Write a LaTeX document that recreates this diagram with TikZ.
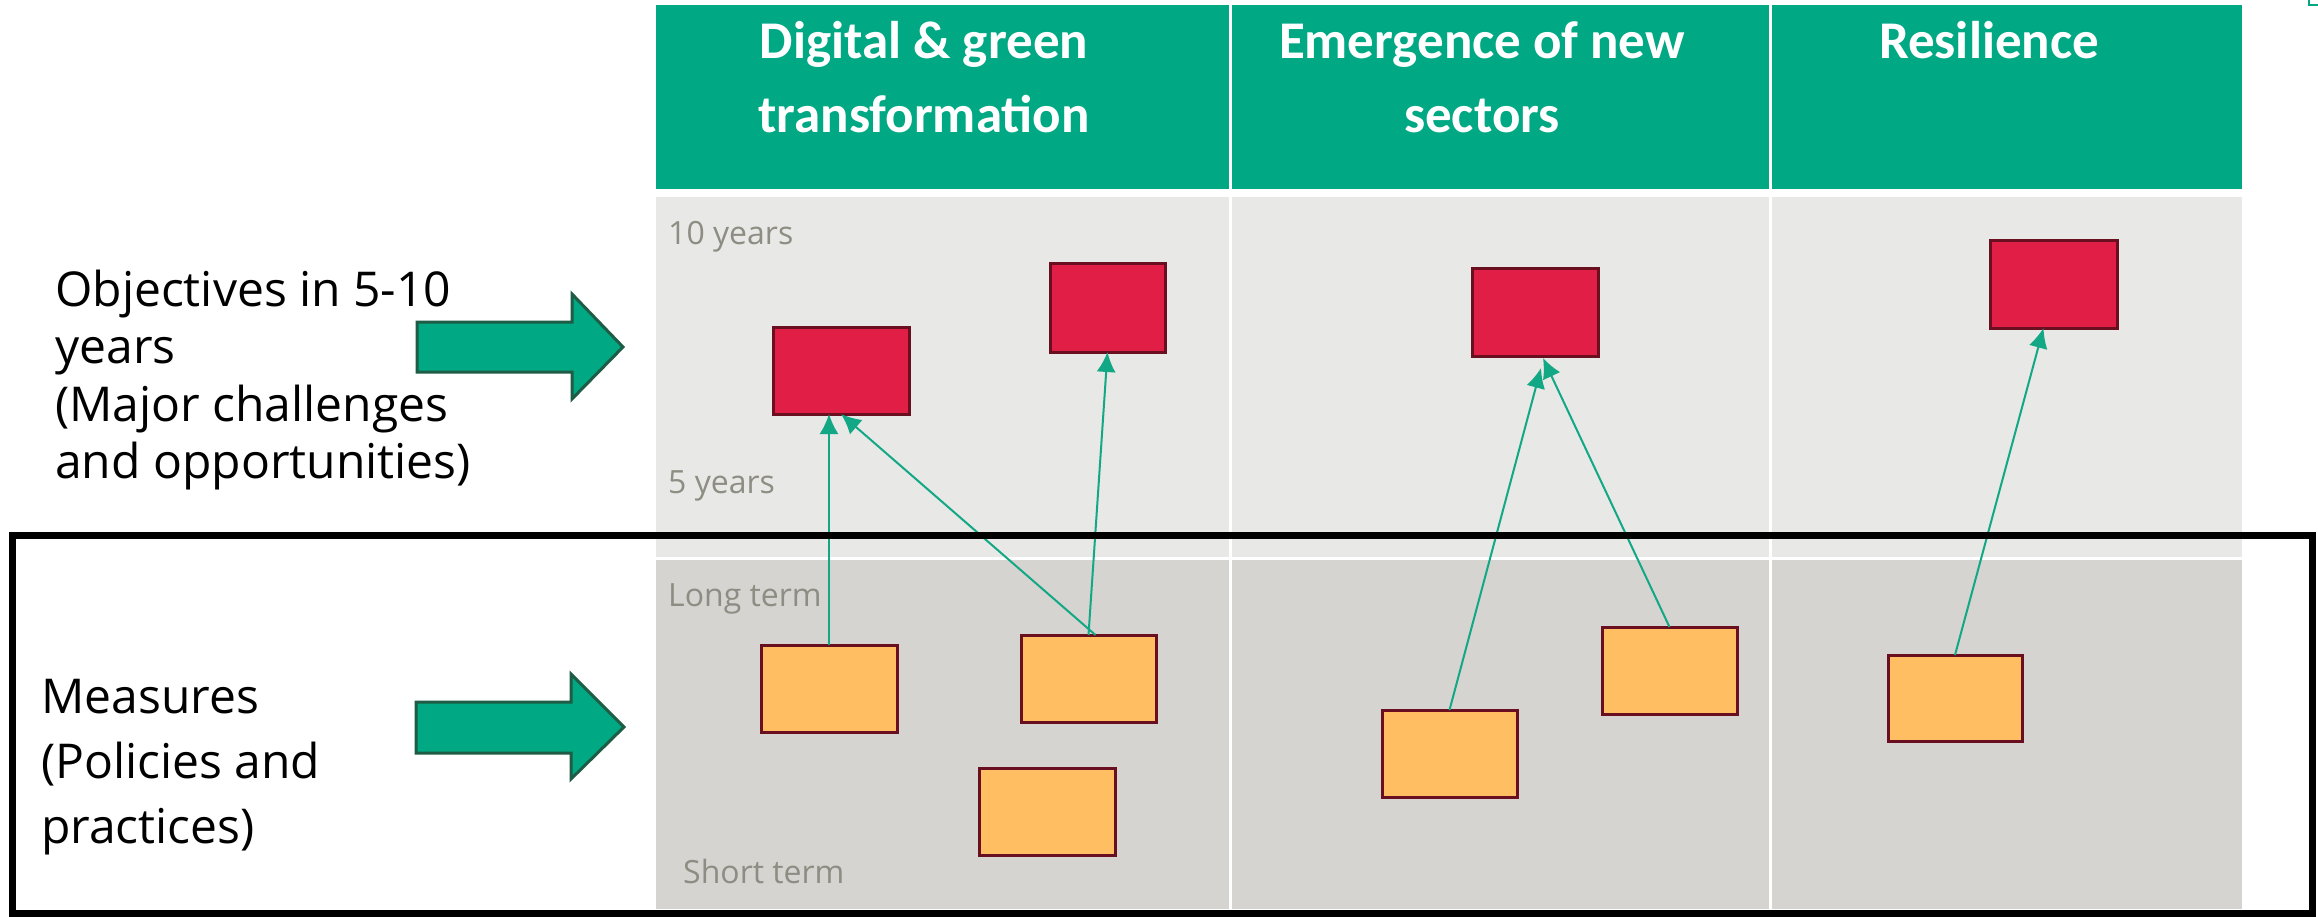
\documentclass[tikz,border=0pt]{standalone}
\usepackage{fontspec}
\setmainfont{Open Sans}
\newfontfamily\headfont{Carlito}
\usetikzlibrary{arrows.meta,calc}
\definecolor{hdgreen}{HTML}{00A884}
\definecolor{arrowedge}{HTML}{1E5C45}
\definecolor{upgrey}{HTML}{E8E8E6}
\definecolor{lowgrey}{HTML}{D5D4D0}
\definecolor{labelgrey}{HTML}{8E8D83}
\definecolor{redfill}{HTML}{E11E45}
\definecolor{orangefill}{HTML}{FFBE62}
\definecolor{boxedge}{HTML}{6A0F20}
\definecolor{linkgreen}{HTML}{12A885}
\tikzset{
  rbox/.style={draw=boxedge, line width=3pt, fill=redfill, anchor=north west, inner sep=0pt, outer sep=0pt},
  obox/.style={draw=boxedge, line width=3pt, fill=orangefill, anchor=north west, inner sep=0pt, outer sep=0pt},
  link/.style={draw=linkgreen, line width=2pt, -{Latex[length=20pt,width=19pt]}},
  headtxt/.style={text=white, font=\headfont\bfseries\fontsize{53}{64}\selectfont, anchor=base, inner sep=0pt},
  sidetxt/.style={text=black, font=\fontsize{48}{58}\selectfont, anchor=base west, inner sep=0pt},
  greytxt/.style={text=labelgrey, font=\fontsize{32}{38}\selectfont, anchor=base west, inner sep=0pt},
  blockarrow/.style={fill=hdgreen, draw=arrowedge, line width=3pt, line join=miter},
}
\begin{document}
\begin{tikzpicture}[x=1pt,y=-1pt]
\useasboundingbox (0,0) rectangle (2318,917);
\fill[white] (0,0) rectangle (2318,917);
% header cells
\fill[hdgreen] (656,5) rectangle (1229,189);
\fill[hdgreen] (1232,5) rectangle (1769,189);
\fill[hdgreen] (1772,5) rectangle (2242,189);
% upper grey cells
\fill[upgrey] (656,197) rectangle (1229,557);
\fill[upgrey] (1232,197) rectangle (1769,557);
\fill[upgrey] (1772,197) rectangle (2242,557);
% lower grey cells
\fill[lowgrey] (656,560) rectangle (1229,909);
\fill[lowgrey] (1232,560) rectangle (1769,909);
\fill[lowgrey] (1772,560) rectangle (2242,909);
% small corner mark
\draw[hdgreen, line width=1.5pt] (2309,0) -- (2309,5) -- (2318,5);
% header texts
\node[headtxt] (h1a) at (924,59) {Digital \& green};
\node[headtxt] (h1b) at (924,133) {transformation};
\node[headtxt] (h2a) at (1482,59) {Emergence of new};
\node[headtxt] (h2b) at (1482,133) {sectors};
\node[headtxt] (h3a) at (1989,59) {Resilience};
% grey labels
\node[greytxt] (l10) at (668,245) {10 years};
\node[greytxt] (l5) at (668,493) {5 years};
\node[greytxt] (llong) at (668,606) {Long term};
\node[greytxt] (lshort) at (683,883) {Short term};
% side texts
\node[sidetxt] (s1) at (55,306) {Objectives in 5-10};
\node[sidetxt] (s2) at (55,363) {years};
\node[sidetxt] (s3) at (55,421) {(Major challenges};
\node[sidetxt] (s4) at (55,478) {and opportunities)};
\node[sidetxt] (m1) at (41,713) {Measures};
\node[sidetxt] (m2) at (41,778) {(Policies and};
\node[sidetxt] (m3) at (41,843) {practices)};
% block arrows
\draw[blockarrow] (417,322) -- (572,322) -- (572,294) -- (623,347) -- (572,399) -- (572,372) -- (417,372) -- cycle;
\draw[blockarrow] (416,702) -- (571,702) -- (571,674) -- (624,727) -- (571,779) -- (571,753) -- (416,753) -- cycle;
% objective boxes
\node[rbox, minimum width=136pt, minimum height=87pt] (r1) at (773,327) {};
\node[rbox, minimum width=115pt, minimum height=88pt] (r2) at (1050,264) {};
\node[rbox, minimum width=126pt, minimum height=87pt] (r3) at (1472,269) {};
\node[rbox, minimum width=127pt, minimum height=87pt] (r4) at (1990,241) {};
% measure boxes
\node[obox, minimum width=136pt, minimum height=87pt] (o1) at (761,645) {};
\node[obox, minimum width=135pt, minimum height=87pt] (o2) at (1021,635) {};
\node[obox, minimum width=136pt, minimum height=87pt] (o3) at (979,768) {};
\node[obox, minimum width=135pt, minimum height=87pt] (o4) at (1382,710) {};
\node[obox, minimum width=135pt, minimum height=87pt] (o5) at (1602,627) {};
\node[obox, minimum width=134pt, minimum height=86pt] (o6) at (1888,655) {};
% connectors
\draw[link] (o1.north) -- (o1.north |- r1.south);
\draw[link] ($(o2.north)+(7,0)$) -- (r1.south);
\draw[link] (o2.north) -- (r2.south);
\draw[link] (o4.north) -- ($(r3.south)+(6,12)$);
\draw[link] (o5.north) -- ($(r3.south)+(8,2)$);
\draw[link] (o6.north) -- ($(r4.south)+(-10,0)$);
% measures frame
\draw[black, line width=7pt] (12,535.5) rectangle (2312,913.5);
\end{tikzpicture}
\end{document}
